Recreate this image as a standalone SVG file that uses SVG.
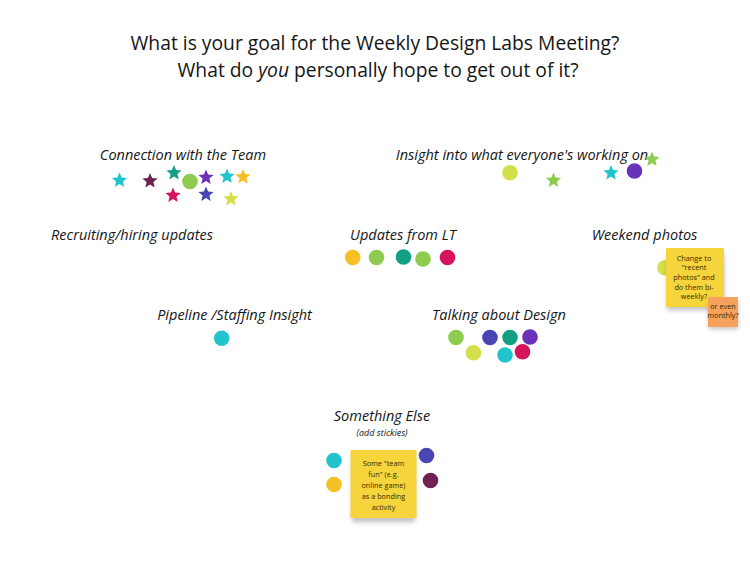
<svg xmlns="http://www.w3.org/2000/svg" xmlns:xlink="http://www.w3.org/1999/xlink" width="750" height="563" viewBox="0 0 750 563">
<style>
.title{font-family:"Open Sans","Liberation Sans",sans-serif;font-size:19.3px;fill:#151515;text-anchor:middle}
.lbl{font-family:"Open Sans","Liberation Sans",sans-serif;font-size:14.5px;font-style:italic;fill:#151515;text-anchor:middle}
.small{font-family:"Open Sans","Liberation Sans",sans-serif;font-size:9px;font-style:italic;fill:#151515;text-anchor:middle}
.note{font-family:"Open Sans","Liberation Sans",sans-serif;font-size:7.3px;fill:#3a2a00;text-anchor:middle}
.cyan{fill:#22c4cc}.dpur{fill:#6e2352}.teal{fill:#14a085}.green{fill:#8ecc50}.purple{fill:#6a32b8}
.yellow{fill:#f6c025}.mag{fill:#d6135b}.blue{fill:#4a45b5}.lime{fill:#d3e04b}
.sticky{fill:#f6d43c}.orange{fill:#f7a15c}
</style>
<defs>
<path id="star" d="M0,-8 L2.116,-2.912 L7.608,-2.472 L3.424,1.112 L4.702,6.472 L0,3.6 L-4.702,6.472 L-3.424,1.112 L-7.608,-2.472 L-2.116,-2.912 Z"/>
<filter id="sh" x="-20%" y="-20%" width="140%" height="160%"><feGaussianBlur stdDeviation="2.5"/></filter>
</defs>
<rect width="750" height="563" fill="#ffffff"/>
<g id="title">
<text class="title" x="375" y="50">What is your goal for the Weekly Design Labs Meeting?</text>
<text class="title" x="378" y="77" font-size="19.6">What do <tspan font-style="italic">you</tspan> personally hope to get out of it?</text>
</g>
<g id="connection">
<text class="lbl" x="183" y="160">Connection with the Team</text>
<use xlink:href="#star" class="cyan" x="119.5" y="180.5"/>
<use xlink:href="#star" class="dpur" x="150" y="181"/>
<use xlink:href="#star" class="teal" x="174" y="173"/>
<circle class="green" cx="190" cy="181.5" r="7.8"/>
<use xlink:href="#star" class="purple" x="206" y="177.5"/>
<use xlink:href="#star" class="cyan" x="227" y="176.5"/>
<use xlink:href="#star" class="yellow" x="243" y="177"/>
<use xlink:href="#star" class="mag" x="173" y="195.5"/>
<use xlink:href="#star" class="blue" x="206" y="194.5"/>
<use xlink:href="#star" class="lime" x="231" y="199"/>
</g>
<g id="insight">
<text class="lbl" x="522" y="160">Insight into what everyone's working on</text>
<circle class="lime" cx="510" cy="172.7" r="7.8"/>
<use xlink:href="#star" class="green" x="553.5" y="180.5"/>
<use xlink:href="#star" class="cyan" x="611" y="173"/>
<circle class="purple" cx="634.5" cy="171" r="7.8"/>
<use xlink:href="#star" class="green" x="652" y="159.5"/>
</g>
<g id="recruiting">
<text class="lbl" x="132" y="240">Recruiting/hiring updates</text>
</g>
<g id="updates">
<text class="lbl" x="403" y="240">Updates from LT</text>
<circle class="yellow" cx="352.7" cy="257.5" r="7.8"/>
<circle class="green" cx="376.5" cy="257.5" r="7.8"/>
<circle class="teal" cx="403.5" cy="257" r="7.8"/>
<circle class="green" cx="423" cy="259" r="7.8"/>
<circle class="mag" cx="447.5" cy="257.5" r="7.8"/>
</g>
<g id="weekend">
<text class="lbl" x="644.5" y="240">Weekend photos</text>
<circle class="lime" cx="665" cy="267.7" r="7.8"/>
<rect x="667" y="254" width="57" height="56" fill="#000" opacity="0.25" filter="url(#sh)"/>
<rect class="sticky" x="666" y="248" width="58" height="59"/>
<text class="note" x="694" y="260.5">Change to</text>
<text class="note" x="694" y="270.3">"recent</text>
<text class="note" x="694" y="280">photos" and</text>
<text class="note" x="694" y="289.6">do them bi-</text>
<text class="note" x="694" y="299.2">weekly?</text>
<rect x="709" y="301" width="29" height="28" fill="#000" opacity="0.25" filter="url(#sh)"/>
<rect class="orange" x="708" y="297" width="30" height="30"/>
<text class="note" x="723" y="309" font-size="5.8">or even</text>
<text class="note" x="723" y="317.5" font-size="5.8">monthly?</text>
</g>
<g id="pipeline">
<text class="lbl" x="234.5" y="320">Pipeline /Staffing Insight</text>
<circle class="cyan" cx="221.7" cy="338.3" r="7.8"/>
</g>
<g id="design">
<text class="lbl" x="499" y="320">Talking about Design</text>
<circle class="green" cx="456" cy="337.5" r="7.8"/>
<circle class="lime" cx="473.5" cy="352.8" r="7.8"/>
<circle class="blue" cx="490" cy="337.5" r="7.8"/>
<circle class="teal" cx="510" cy="337.5" r="7.8"/>
<circle class="purple" cx="530" cy="337" r="7.8"/>
<circle class="cyan" cx="505" cy="355" r="7.8"/>
<circle class="mag" cx="522.5" cy="351.8" r="7.8"/>
</g>
<g id="something">
<text class="lbl" x="382" y="421">Something Else</text>
<text class="small" x="382" y="436">(add stickies)</text>
<circle class="cyan" cx="334" cy="460.5" r="7.8"/>
<circle class="yellow" cx="334" cy="484.5" r="7.8"/>
<circle class="blue" cx="426.5" cy="455.5" r="7.8"/>
<circle class="dpur" cx="430.5" cy="480.5" r="7.8"/>
<rect x="352" y="456" width="63" height="66" fill="#000" opacity="0.25" filter="url(#sh)"/>
<rect class="sticky" x="350.5" y="450" width="66" height="68"/>
<text class="note" x="383.5" y="465.5" font-size="7.8">Some "team</text>
<text class="note" x="383.5" y="476.5" font-size="7.8">fun" (e.g.</text>
<text class="note" x="383.5" y="487.5" font-size="7.8">online game)</text>
<text class="note" x="383.5" y="498.5" font-size="7.8">as a bonding</text>
<text class="note" x="383.5" y="509.5" font-size="7.8">activity</text>
</g>
<g id="connectors"></g>
</svg>
